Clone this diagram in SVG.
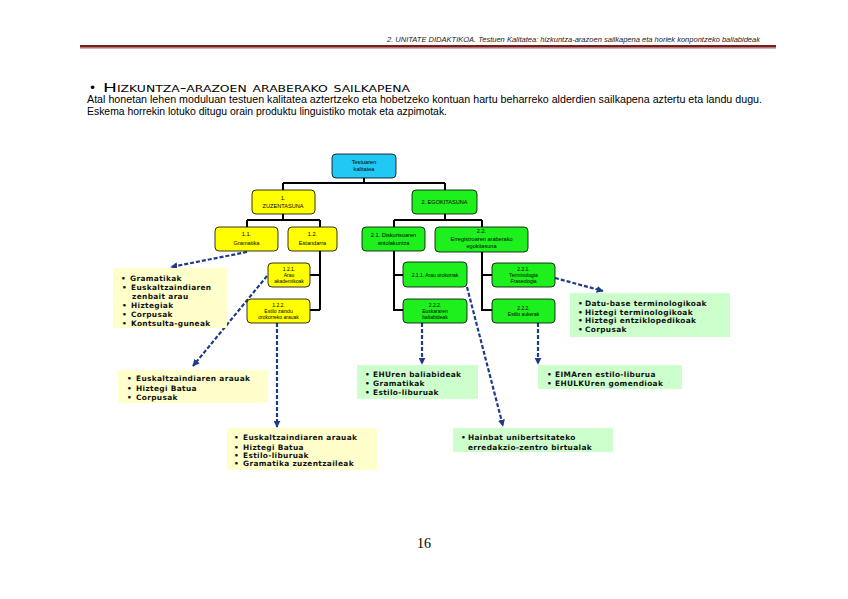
<svg xmlns="http://www.w3.org/2000/svg" width="848" height="599" viewBox="0 0 848 599">
<defs>
<marker id="ah" viewBox="0 0 10 10" refX="9" refY="5" markerWidth="7" markerHeight="7" markerUnits="userSpaceOnUse" orient="auto">
<path d="M0,0 L10,5 L0,10 z" fill="#1f3a8a"/>
</marker>
<style>
.hdr{font-family:"Liberation Sans",Arial,sans-serif;font-style:italic;font-size:7px;fill:#222}
.ttl{font-family:"DejaVu Sans",Verdana,sans-serif;font-size:12px;font-variant:small-caps;fill:#000}
.par{font-family:"Liberation Sans",Arial,sans-serif;font-size:10px;fill:#000}
.pg{font-family:"Liberation Serif","Times New Roman",serif;font-size:14px;fill:#000}
.nd{stroke:#000;stroke-width:0.8}
.blue{fill:#22c8f4}
.yel{fill:#ffff00}
.grn{fill:#1ef01e}
.nt{font-family:"Liberation Sans",Arial,sans-serif;font-size:5.6px;fill:#000;text-anchor:middle}
.nts{font-family:"Liberation Sans",Arial,sans-serif;font-size:5px;fill:#000;text-anchor:middle}
.cream{fill:#ffffcc}
.lgrn{fill:#ccffcc}
.bt{font-family:"DejaVu Sans",Verdana,sans-serif;font-weight:bold;font-size:7.4px;letter-spacing:0.35px;fill:#111}
.conn{stroke:#000;stroke-width:2;fill:none}
.dash{stroke:#1f3a8a;stroke-width:2.2;stroke-dasharray:4 2;fill:none}
</style>
</defs>

<!-- page header -->
<g id="header">
<text class="hdr" x="760" y="42" text-anchor="end" textLength="373" lengthAdjust="spacingAndGlyphs">2. UNITATE DIDAKTIKOA. Testuen Kalitatea: hizkuntza-arazoen sailkapena eta horiek konpontzeko baliabideak</text>
<rect x="80" y="45" width="696" height="2.6" fill="#7a1c1c"/>
<rect x="80" y="47.6" width="696" height="1" fill="#b08080"/>
</g>

<g id="title">
<text class="ttl" x="89" y="92">•</text>
<text class="ttl" x="103" y="92" textLength="307" lengthAdjust="spacingAndGlyphs">Hizkuntza-arazoen araberako sailkapena</text>
<text class="par" x="87" y="103" textLength="675" lengthAdjust="spacingAndGlyphs">Atal honetan lehen moduluan testuen kalitatea aztertzeko eta hobetzeko kontuan hartu beharreko alderdien sailkapena aztertu eta landu dugu.</text>
<text class="par" x="87" y="115" textLength="360" lengthAdjust="spacingAndGlyphs">Eskema horrekin lotuko ditugu orain produktu linguistiko motak eta azpimotak.</text>
</g>

<!-- connectors -->
<g id="connectors">
<path class="conn" d="M364,178 V183 M283,183 H445 M283,183 V190 M445,183 V190"/>
<path class="conn" d="M283,214 V220 M247,220 H320 M247,220 V227 M320,220 V227"/>
<path class="conn" d="M320,251 V310 M310,275 H320 M310,310 H320"/>
<path class="conn" d="M445,214 V220 M394,220 H482 M394,220 V227 M482,220 V227"/>
<path class="conn" d="M394,251 V310 H403 M394,275 H403"/>
<path class="conn" d="M482,252 V310 H492 M482,275 H492"/>
<path class="dash" d="M247,252 L171,267" marker-end="url(#ah)"/>
<path class="dash" d="M267,276 L193,366" marker-end="url(#ah)"/>
<path class="dash" d="M277,323 V427" marker-end="url(#ah)"/>
<path class="dash" d="M422,323 V364" marker-end="url(#ah)"/>
<path class="dash" d="M467,287 L503,426" marker-end="url(#ah)"/>
<path class="dash" d="M538,323 V364" marker-end="url(#ah)"/>
<path class="dash" d="M555,278 L603,291" marker-end="url(#ah)"/>
</g>

<!-- tree nodes -->
<g id="n-root">
<rect class="nd blue" x="332" y="154" width="64" height="24" rx="4"/>
<text class="nt" x="364" y="164">Testuaren</text>
<text class="nt" x="364" y="171">kalitatea</text>
</g>
<g id="n-1">
<rect class="nd yel" x="252" y="190" width="63" height="24" rx="4"/>
<text class="nt" x="283" y="200">1.</text>
<text class="nt" x="283" y="207.5">ZUZENTASUNA</text>
</g>
<g id="n-2">
<rect class="nd grn" x="412" y="190" width="65" height="24" rx="4"/>
<text class="nt" x="444.5" y="204">2. EGOKITASUNA</text>
</g>
<g id="n-1-1">
<rect class="nd yel" x="215" y="227" width="63" height="24" rx="4"/>
<text class="nt" x="246.5" y="236">1.1.</text>
<text class="nt" x="246.5" y="244.5">Gramatika</text>
</g>
<g id="n-1-2">
<rect class="nd yel" x="288" y="227" width="49" height="24" rx="4"/>
<text class="nt" x="312.5" y="236">1.2.</text>
<text class="nt" x="312.5" y="244.5">Estandarra</text>
</g>
<g id="n-2-1">
<rect class="nd grn" x="362" y="227" width="63" height="24" rx="4"/>
<text class="nt" x="393.5" y="237">2.1. Diskurtsoaren</text>
<text class="nt" x="393.5" y="244.5">antolakuntza</text>
</g>
<g id="n-2-2">
<rect class="nd grn" x="435" y="227" width="93" height="25" rx="4"/>
<text class="nt" x="481.5" y="233">2.2.</text>
<text class="nt" x="481.5" y="240.5">Erregistroaren araberako</text>
<text class="nt" x="481.5" y="248">egokitasuna</text>
</g>
<g id="n-1-2-1">
<rect class="nd yel" x="268" y="263" width="42" height="24" rx="4"/>
<text class="nts" x="289" y="270.5">1.2.1.</text>
<text class="nts" x="289" y="276.5">Arau</text>
<text class="nts" x="289" y="282.5">akademikoak</text>
</g>
<g id="n-1-2-2">
<rect class="nd yel" x="247" y="299" width="63" height="24" rx="4"/>
<text class="nts" x="278.5" y="306.5">1.2.2.</text>
<text class="nts" x="278.5" y="312.5">Estilo zaindu</text>
<text class="nts" x="278.5" y="318.5">orokorreko arauak</text>
</g>
<g id="n-2-1-1">
<rect class="nd grn" x="403" y="262" width="64" height="25" rx="4"/>
<text class="nts" x="435" y="276.5">2.1.1. Arau orokorrak</text>
</g>
<g id="n-2-1-2">
<rect class="nd grn" x="403" y="299" width="64" height="24" rx="4"/>
<text class="nts" x="435" y="306.5">2.2.2.</text>
<text class="nts" x="435" y="312.5">Euskararen</text>
<text class="nts" x="435" y="318.5">baliabideak</text>
</g>
<g id="n-2-2-1">
<rect class="nd grn" x="492" y="263" width="63" height="24" rx="4"/>
<text class="nts" x="523.5" y="270.5">2.2.1.</text>
<text class="nts" x="523.5" y="276.5">Terminologia</text>
<text class="nts" x="523.5" y="282.5">Fraseologia</text>
</g>
<g id="n-2-2-2">
<rect class="nd grn" x="492" y="299" width="63" height="24" rx="4"/>
<text class="nts" x="523.5" y="309.5">2.2.2.</text>
<text class="nts" x="523.5" y="315.5">Estilo aukerak</text>
</g>

<!-- bullet boxes -->
<g id="box-gramatika">
<rect class="cream" x="113" y="268" width="114" height="60"/>
<text class="bt" x="121" y="281">•</text><text class="bt" x="130" y="281">Gramatikak</text>
<text class="bt" x="122" y="290">•</text><text class="bt" x="131" y="290">Euskaltzaindiaren</text>
<text class="bt" x="132" y="299">zenbait arau</text>
<text class="bt" x="122" y="308">•</text><text class="bt" x="131" y="308">Hiztegiak</text>
<text class="bt" x="122" y="317">•</text><text class="bt" x="131" y="317">Corpusak</text>
<text class="bt" x="122" y="326">•</text><text class="bt" x="131" y="326">Kontsulta-guneak</text>
</g>
<g id="box-arau">
<rect class="cream" x="118" y="370" width="150" height="33"/>
<text class="bt" x="127" y="381">•</text><text class="bt" x="136" y="381">Euskaltzaindiaren arauak</text>
<text class="bt" x="127" y="391">•</text><text class="bt" x="136" y="391">Hiztegi Batua</text>
<text class="bt" x="127" y="400">•</text><text class="bt" x="136" y="400">Corpusak</text>
</g>
<g id="box-estilo">
<rect class="cream" x="227" y="428" width="150" height="42"/>
<text class="bt" x="234" y="440">•</text><text class="bt" x="243" y="440">Euskaltzaindiaren arauak</text>
<text class="bt" x="234" y="450">•</text><text class="bt" x="243" y="450">Hiztegi Batua</text>
<text class="bt" x="234" y="458">•</text><text class="bt" x="243" y="458">Estilo-liburuak</text>
<text class="bt" x="234" y="466">•</text><text class="bt" x="243" y="466">Gramatika zuzentzaileak</text>
</g>
<g id="box-euskara">
<rect class="lgrn" x="357" y="365" width="121" height="34"/>
<text class="bt" x="365" y="377">•</text><text class="bt" x="373" y="377">EHUren baliabideak</text>
<text class="bt" x="365" y="386">•</text><text class="bt" x="373" y="386">Gramatikak</text>
<text class="bt" x="365" y="395">•</text><text class="bt" x="373" y="395">Estilo-liburuak</text>
</g>
<g id="box-erredakzio">
<rect class="lgrn" x="453" y="428" width="160" height="24"/>
<text class="bt" x="461" y="440">•</text><text class="bt" x="468" y="440">Hainbat unibertsitateko</text>
<text class="bt" x="468" y="450">erredakzio-zentro birtualak</text>
</g>
<g id="box-aukerak">
<rect class="lgrn" x="538" y="365" width="144" height="24"/>
<text class="bt" x="547" y="377">•</text><text class="bt" x="555" y="377">EIMAren estilo-liburua</text>
<text class="bt" x="547" y="386">•</text><text class="bt" x="555" y="386">EHULKUren gomendioak</text>
</g>
<g id="box-termino">
<rect class="lgrn" x="570" y="293" width="160" height="44"/>
<text class="bt" x="578" y="306">•</text><text class="bt" x="585" y="306">Datu-base terminologikoak</text>
<text class="bt" x="578" y="315">•</text><text class="bt" x="585" y="315">Hiztegi terminologikoak</text>
<text class="bt" x="578" y="323">•</text><text class="bt" x="585" y="323">Hiztegi entziklopedikoak</text>
<text class="bt" x="578" y="332">•</text><text class="bt" x="585" y="332">Corpusak</text>
</g>

<text class="pg" x="424" y="548" text-anchor="middle">16</text>
</svg>
